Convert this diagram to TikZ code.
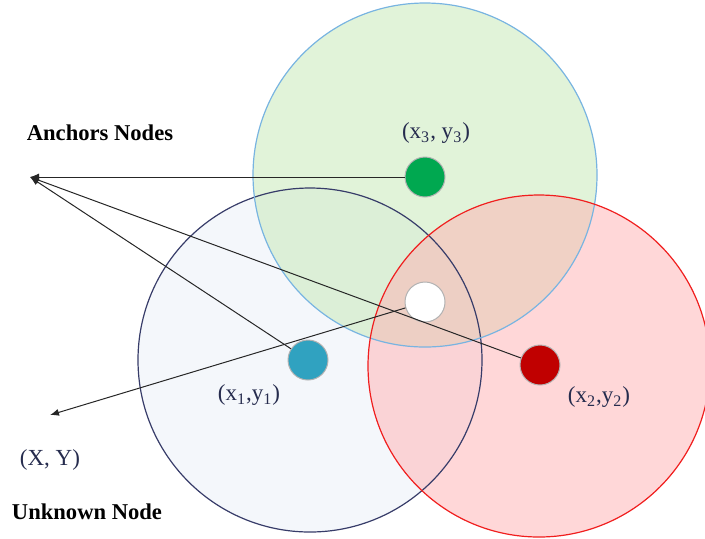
\documentclass[tikz,border=0pt]{standalone}
\usepackage{fontspec}
\setmainfont{Liberation Serif}
\usetikzlibrary{arrows.meta}

\definecolor{fillgreen}{RGB}{196,231,180}
\definecolor{fillred}{RGB}{255,176,178}
\definecolor{fillblue}{RGB}{234,240,248}
\definecolor{edgegreen}{RGB}{120,180,225}
\definecolor{edgered}{RGB}{240,30,30}
\definecolor{edgeblue}{RGB}{55,60,105}
\definecolor{dotgreen}{RGB}{0,168,80}
\definecolor{dotblue}{RGB}{48,162,192}
\definecolor{dotred}{RGB}{192,0,0}
\definecolor{labelblue}{RGB}{38,44,78}

\begin{document}
\begin{tikzpicture}[
  x=0.5pt, y=-0.5pt,
  zone/.style={fill opacity=0.5},
  rim/.style={line width=0.6pt},
  dot/.style={circle, draw=gray!60, line width=0.5pt, minimum size=20pt, inner sep=0pt},
  lbl/.style={font=\fontsize{11.5}{13}\selectfont, text=labelblue},
  title/.style={font=\fontsize{11.3}{13}\selectfont\bfseries},
  arrow/.style={-{Latex[length=4.5pt,width=3.5pt]}, line width=0.5pt, black!85}
]
\useasboundingbox (0,0) rectangle (705,538);

% coverage circles
\fill[zone, fillblue]  (310,360) circle[radius=172];
\fill[zone, fillgreen] (425,175) circle[radius=172];
\fill[zone, fillred]   (539,366) circle[radius=171];
\draw[rim, edgeblue]  (310,360) circle[radius=172];
\draw[rim, edgegreen] (425,175) circle[radius=172];
\draw[rim, edgered]   (539,366) circle[radius=171];

% anchors and unknown node
\node[dot, fill=dotgreen] (g) at (425,177) {};
\node[dot, fill=dotblue]  (b) at (308,360) {};
\node[dot, fill=dotred]   (r) at (540,365) {};
\node[dot, fill=white]    (w) at (425,302) {};

\coordinate (anc) at (30,177);
\coordinate (unk) at (50,415);

\draw[arrow] (g) -- (anc);
\draw[arrow] (b) -- (anc);
\draw[arrow] (r) -- (anc);
\draw[arrow] (w) -- (unk);

% labels
\node[title] (anctitle) at (100,133) {Anchors Nodes};
\node[title] (unktitle) at (87,512) {Unknown Node};
\node[lbl] (g-lbl) at (436,133) {(x\textsubscript{3}, y\textsubscript{3})};
\node[lbl] (b-lbl) at (249,395) {(x\textsubscript{1},y\textsubscript{1})};
\node[lbl] (r-lbl) at (599,397) {(x\textsubscript{2},y\textsubscript{2})};
\node[lbl] (unk-lbl) at (50,460) {(X, Y)};
\end{tikzpicture}
\end{document}
